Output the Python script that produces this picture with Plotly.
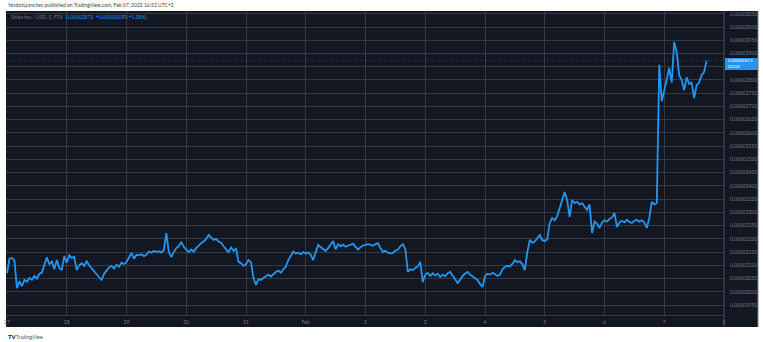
import plotly.graph_objects as go
import pandas as pd

# ---------------- data (price in units of 1e-8 USD, hourly from 2022-01-27 00:00) ----------------
start_time = "2022-01-27 00:00"
price_e8 = [
    # Jan 27
    2071, 2125, 2128, 2118, 2014, 2040, 2022, 2045, 2038, 2052, 2046, 2060,
    2050, 2068, 2072, 2098, 2130, 2105, 2115, 2085, 2120, 2090, 2082, 2135,
    # Jan 28
    2110, 2138, 2128, 2132, 2082, 2100, 2108, 2098, 2115, 2100, 2088, 2075,
    2065, 2055, 2045, 2068, 2080, 2092, 2098, 2088, 2102, 2095, 2110, 2105,
    # Jan 29
    2112, 2130, 2147, 2125, 2140, 2138, 2142, 2135, 2140, 2152, 2148, 2155,
    2150, 2153, 2148, 2158, 2222, 2150, 2131, 2150, 2165, 2172, 2188, 2170,
    # Jan 30
    2158, 2150, 2160, 2152, 2165, 2175, 2184, 2190, 2200, 2215, 2205, 2196,
    2200, 2190, 2185, 2170, 2160, 2150, 2168, 2155, 2162, 2113, 2108, 2098,
    # Jan 31
    2105, 2120, 2112, 2052, 2026, 2048, 2045, 2052, 2060, 2065, 2058, 2068,
    2075, 2080, 2072, 2085, 2095, 2120, 2135, 2152, 2145, 2148, 2142, 2150,
    # Feb 1
    2145, 2148, 2140, 2120, 2150, 2177, 2168, 2160, 2155, 2165, 2178, 2192,
    2160, 2180, 2172, 2178, 2170, 2175, 2180, 2182, 2170, 2160, 2168, 2175,
    # Feb 2
    2177, 2180, 2178, 2174, 2180, 2184, 2165, 2150, 2155, 2148, 2145, 2147,
    2155, 2160, 2172, 2180, 2162, 2075, 2085, 2082, 2090, 2095, 2113, 2037,
    # Feb 3
    2065, 2071, 2060, 2070, 2062, 2068, 2056, 2065, 2058, 2070, 2075, 2060,
    2050, 2033, 2045, 2060, 2068, 2075, 2065, 2058, 2050, 2045, 2030, 2018,
    # Feb 4
    2060, 2068, 2065, 2072, 2066, 2060, 2065, 2085, 2094, 2098, 2096, 2105,
    2120, 2112, 2115, 2105, 2082, 2150, 2196, 2185, 2190, 2205, 2215, 2195,
    # Feb 5
    2192, 2198, 2260, 2279, 2270, 2285, 2317, 2345, 2377, 2347, 2283, 2347,
    2335, 2340, 2330, 2335, 2320, 2309, 2330, 2222, 2265, 2258, 2241, 2262,
    # Feb 6
    2270, 2265, 2275, 2280, 2298, 2245, 2262, 2268, 2262, 2272, 2264, 2260,
    2268, 2272, 2265, 2270, 2262, 2241, 2279, 2340, 2330, 2335, 2857, 2720,
    # Feb 7
    2760, 2800, 2845, 2790, 2943, 2905, 2818, 2800, 2762, 2810, 2785, 2790,
    2732, 2780, 2790, 2818, 2830, 2873,
]
x_tick_dates = ["2022-01-27", "2022-01-28", "2022-01-29", "2022-01-30", "2022-01-31",
                "2022-02-01", "2022-02-02", "2022-02-03", "2022-02-04", "2022-02-05",
                "2022-02-06", "2022-02-07", "2022-02-08"]
x_tick_text = ["27", "28", "29", "30", "31", "Feb", "2", "3", "4", "5", "6", "7", "8"]
y_tick_e8 = [1950, 2000, 2050, 2100, 2150, 2200, 2250, 2300, 2350, 2400, 2450, 2500,
             2550, 2600, 2650, 2700, 2750, 2800, 2850, 2900, 2950, 3000, 3050]
hidden_tick_e8 = [2850]  # covered by the last-price label in the original
last_price_e8 = 2873

header_text = "YordanLyanchev published on TradingView.com, Feb 07, 2022 16:52 UTC+2"
symbol_text = "Shiba Inu / USD, 5, FTX"
change_text = "0.00002873  +0.00000039 (+1.38%)"
price_label_text = "0.00002873<br>03:04"

# ---------------- figure ----------------
times = pd.date_range(start_time, periods=len(price_e8), freq="h")
prices = [v * 1e-8 for v in price_e8]
y_ticks = [v * 1e-8 for v in y_tick_e8]
y_tick_text = ["" if v in hidden_tick_e8 else f"{v * 1e-8:.8f}" for v in y_tick_e8]

W, H = 763, 342
L, R, T, B = 4, 39, 11, 27
PW, PH = W - L - R, H - T - B


def px(xp):
    return (xp - L) / PW


def py(yp):
    return (H - B - yp) / PH


BG = "#131722"
GRID = "#363a45"
BLUE = "#2196f3"
LABEL = "#787b86"
FONT = "Lato"

fig = go.Figure()
fig.add_trace(go.Scatter(x=times, y=prices, mode="lines",
                         line=dict(color=BLUE, width=1.8), hoverinfo="skip"))

shapes = [
    # dark chart background incl. axis strips
    dict(type="rect", xref="paper", yref="paper", x0=px(4), x1=px(758), y0=py(327), y1=py(11),
         fillcolor=BG, line=dict(width=0), layer="below"),
    # right axis separator
    dict(type="line", xref="paper", yref="paper", x0=1, x1=1, y0=py(327), y1=1,
         line=dict(color="#4a4e59", width=1)),
    # chart right border
    dict(type="line", xref="paper", yref="paper", x0=px(758), x1=px(758), y0=py(327), y1=1,
         line=dict(color="#5d606b", width=1)),
    # last price line
    dict(type="line", xref="paper", yref="y", x0=0, x1=1,
         y0=last_price_e8 * 1e-8, y1=last_price_e8 * 1e-8,
         line=dict(color="rgba(33,150,243,0.22)", width=1, dash="dot")),
    # last price label box
    dict(type="rect", xref="paper", yref="paper", x0=px(725), x1=px(758), y0=py(70), y1=py(58),
         fillcolor=BLUE, line=dict(width=0)),
]

annotations = [
    dict(text=header_text, xref="paper", yref="paper", x=px(4), y=py(5), xanchor="left",
         yanchor="middle", showarrow=False, font=dict(family=FONT, size=5, color="#444")),
    dict(text=symbol_text, xref="paper", yref="paper", x=px(7), y=py(17), xanchor="left",
         yanchor="middle", showarrow=False, font=dict(family=FONT, size=5, color=LABEL)),
    dict(text=change_text, xref="paper", yref="paper", x=px(62), y=py(17), xanchor="left",
         yanchor="middle", showarrow=False, font=dict(family=FONT, size=5, color=BLUE)),
    dict(text=price_label_text, xref="paper", yref="paper", x=px(727), y=py(64),
         xanchor="left", yanchor="middle", align="left", showarrow=False, borderpad=0,
         font=dict(family=FONT, size=4.5, color="white")),
    dict(text="<b>TV</b>", xref="paper", yref="paper", x=px(4), y=py(336.5), xanchor="left",
         yanchor="middle", showarrow=False, font=dict(family=FONT, size=6, color="#131722")),
    dict(text="TradingView", xref="paper", yref="paper", x=px(12), y=py(336.5), xanchor="left",
         yanchor="middle", showarrow=False, font=dict(family=FONT, size=5, color="#555")),
]

fig.update_layout(
    width=W, height=H, autosize=False,
    margin=dict(l=L, r=R, t=T, b=B, pad=0),
    paper_bgcolor="white", plot_bgcolor=BG,
    showlegend=False,
    shapes=shapes, annotations=annotations,
    xaxis=dict(type="date", range=["2022-01-26 23:36", "2022-02-08 00:00"],
               tickvals=x_tick_dates, ticktext=x_tick_text,
               showgrid=True, gridcolor=GRID, gridwidth=1,
               showline=True, linecolor=GRID, zeroline=False,
               ticks="", ticklabelstandoff=2,
               tickfont=dict(family=FONT, size=5, color=LABEL), fixedrange=True),
    yaxis=dict(range=[1912.5e-8, 3060.4e-8], side="right",
               tickvals=y_ticks, ticktext=y_tick_text,
               showgrid=True, gridcolor=GRID, gridwidth=1,
               zeroline=False, showline=False, ticks="", ticklabelstandoff=5,
               tickfont=dict(family=FONT, size=5, color=LABEL), fixedrange=True),
)

fig.write_html("out.html")
